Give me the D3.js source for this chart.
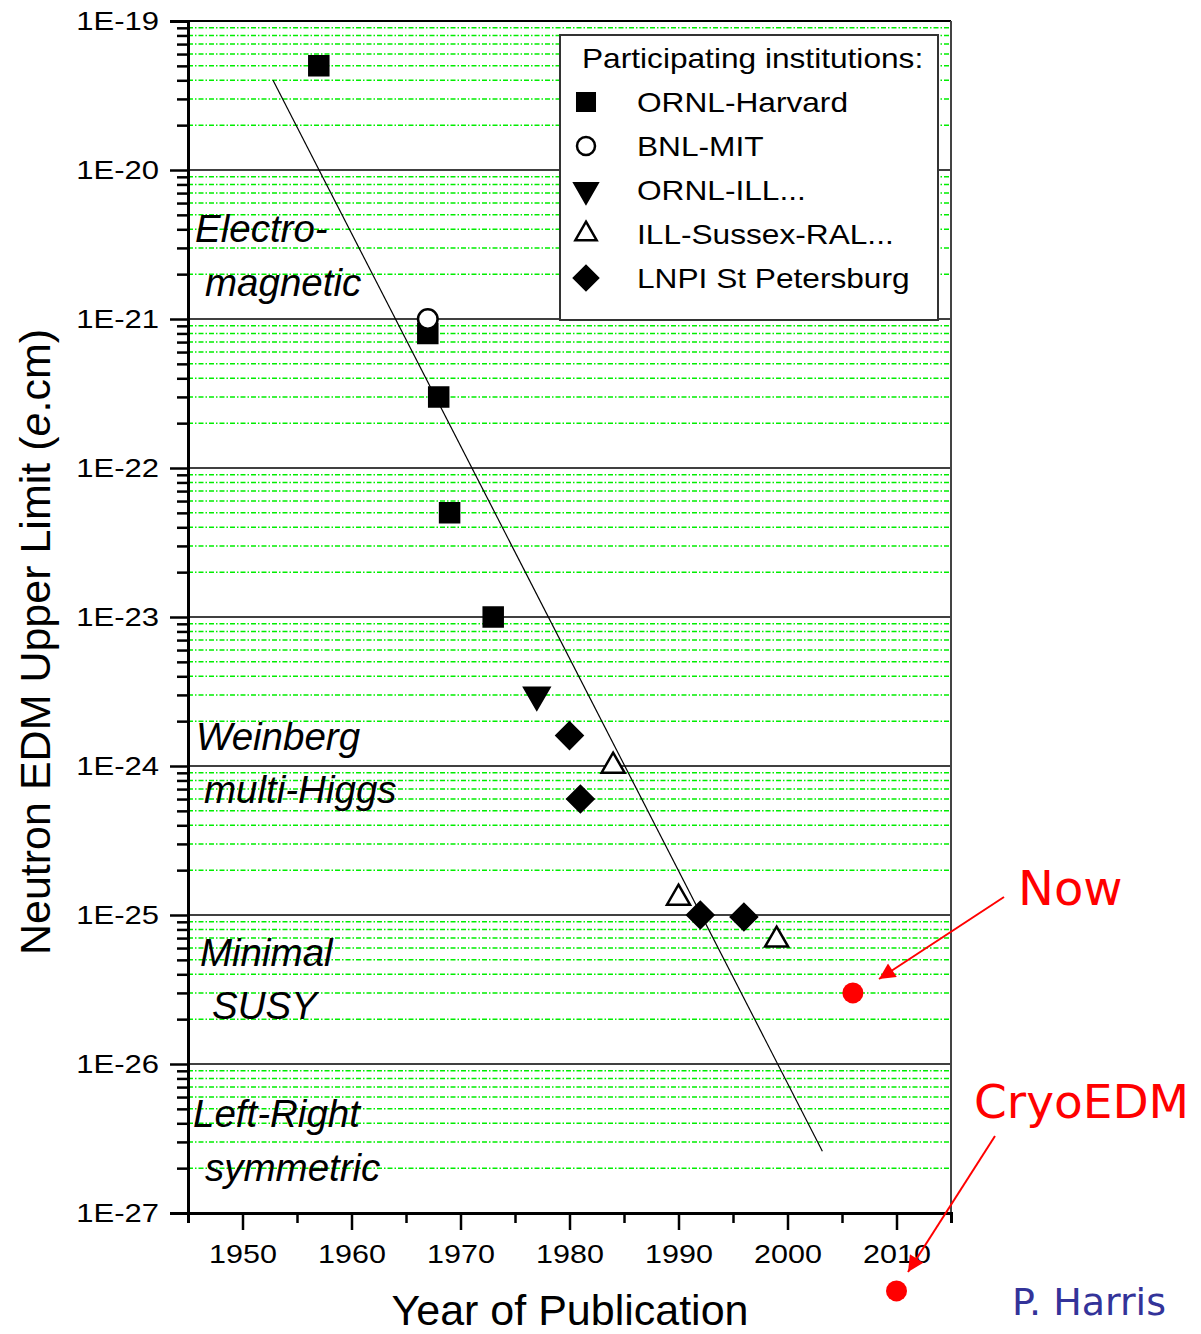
<!DOCTYPE html>
<html>
<head>
<meta charset="utf-8">
<script src="https://cdn.jsdelivr.net/npm/d3@7"></script>
<style>
  body { margin: 0; background: #fff; }
  svg { display: block; }
</style>
</head>
<body>
<svg id="chart" width="1201" height="1334"></svg>
<script>
// values (year of publication, EDM upper limit in e.cm)
const ornlHarvardYears = [1957, 1967, 1968, 1969, 1973];
const ornlHarvardLimits = [5e-20, 8e-22, 3e-22, 5e-23, 1e-23];
const bnlMitYears = [1967];
const bnlMitLimits = [1e-21];
const ornlIllYears = [1977];
const ornlIllLimits = [3e-24];
const illSussexYears = [1984, 1990, 1999];
const illSussexLimits = [1e-24, 1.3e-25, 6.8e-26];
const lnpiYears = [1980, 1981, 1992, 1996];
const lnpiLimits = [1.6e-24, 6e-25, 1e-25, 9.7e-26];
const nowYears = [2006];
const nowLimits = [3e-26];
const cryoYears = [2010];
const cryoLimits = [3e-28];
const trendYears = [1952.8, 2003.2];
const trendLimits = [4e-20, 2.6e-27];

const legendTitle = 'Participating institutions:';
const legendNames = ['ORNL-Harvard', 'BNL-MIT', 'ORNL-ILL...', 'ILL-Sussex-RAL...', 'LNPI St Petersburg'];
const regionNames = ['Electro-', 'magnetic', 'Weinberg', 'multi-Higgs', 'Minimal', 'SUSY', 'Left-Right', 'symmetric'];
const yearTicks = [1945, 1950, 1955, 1960, 1965, 1970, 1975, 1980, 1985, 1990, 1995, 2000, 2005, 2010, 2015];
const yearLabels = [1950, 1960, 1970, 1980, 1990, 2000, 2010];
const decadeTicks = [1e-27, 1e-26, 1e-25, 1e-24, 1e-23, 1e-22, 1e-21, 1e-20, 1e-19];

const FONT = 'Liberation Sans, Arial, Helvetica, sans-serif';

const svg = d3.select('#chart');
svg.append('rect').attr('width', 1201).attr('height', 1334).attr('fill', '#fff');

const x = d3.scaleLinear().domain([1945, 2015]).range([188, 951]);
const y = d3.scaleLog().domain([1e-27, 1e-19]).range([1213, 21]);

// the original's text is a horizontally stretched Helvetica
function stretch(sel, k) {
  sel.each(function() {
    const w = this.getComputedTextLength();
    d3.select(this).attr('textLength', w * k).attr('lengthAdjust', 'spacingAndGlyphs');
  });
}

// minor values 2..9 within each decade
const minorTicks = [];
decadeTicks.slice(0, -1).forEach(d => {
  for (let k = 2; k <= 9; k++) minorTicks.push(d * k);
});

// Grid
const grid = svg.append('g');
grid.selectAll('line.minor').data(minorTicks).join('line')
  .attr('x1', x(1945)).attr('x2', x(2015))
  .attr('y1', d => y(d)).attr('y2', d => y(d))
  .attr('stroke', '#00ee00').attr('stroke-width', 1.5)
  .attr('stroke-dasharray', '5,2,1.5,2');
grid.selectAll('line.major').data(decadeTicks.slice(0, -1)).join('line')
  .attr('x1', x(1945)).attr('x2', x(2015))
  .attr('y1', d => y(d)).attr('y2', d => y(d))
  .attr('stroke', '#000').attr('stroke-width', 1.5);

// frame top/right
svg.append('line').attr('x1', x(1945)).attr('x2', x(2015)).attr('y1', y(1e-19)).attr('y2', y(1e-19))
  .attr('stroke', '#000').attr('stroke-width', 2);
svg.append('line').attr('x1', x(2015)).attr('x2', x(2015)).attr('y1', y(1e-19)).attr('y2', y(1e-27))
  .attr('stroke', '#444').attr('stroke-width', 2);

// region labels
const regionPos = [[195, 242], [205, 296], [196, 750], [204, 803], [200, 966], [212, 1019], [193, 1127], [205, 1181]];
svg.append('g').selectAll('text').data(regionNames).join('text')
  .attr('x', (d, i) => regionPos[i][0]).attr('y', (d, i) => regionPos[i][1])
  .attr('font-family', FONT)
  .attr('font-style', 'italic').attr('font-size', 38.5).attr('fill', '#000')
  .text(d => d);

// Legend
const lg = svg.append('g');
lg.append('rect').attr('x', 560).attr('y', 35).attr('width', 378).attr('height', 285)
  .attr('fill', '#fff').attr('stroke', '#333').attr('stroke-width', 2);
lg.append('text').attr('x', 582).attr('y', 68)
  .attr('font-family', FONT).attr('font-size', 28)
  .text(legendTitle)
  .call(stretch, 1.13);

const markerStyles = [
  { type: d3.symbolSquare, size: 361, rot: 0, fill: '#000' },
  { type: d3.symbolCircle, size: 300, rot: 0, fill: '#fff' },
  { type: d3.symbolTriangle, size: 270, rot: 180, fill: '#000' },
  { type: d3.symbolTriangle, size: 230, rot: 0, fill: '#fff' },
  { type: d3.symbolSquare, size: 340, rot: 45, fill: '#000' }
];

legendNames.forEach((name, i) => {
  const cy = 102 + i * 44;
  const m = markerStyles[i];
  lg.append('path')
    .attr('d', d3.symbol().type(m.type).size(m.size * 0.85)())
    .attr('transform', `translate(586,${cy}) rotate(${m.rot})`)
    .attr('fill', m.fill).attr('stroke', '#000').attr('stroke-width', 2.5);
  lg.append('text').attr('x', 637).attr('y', cy + 10)
    .attr('font-family', FONT).attr('font-size', 28)
    .text(name)
    .call(stretch, 1.13);
});

// trend line
svg.append('path')
  .attr('d', d3.line().x((d, i) => x(trendYears[i])).y(d => y(d))(trendLimits))
  .attr('fill', 'none').attr('stroke', '#000').attr('stroke-width', 1.2);

// data series
const series = [
  [ornlHarvardYears, ornlHarvardLimits],
  [bnlMitYears, bnlMitLimits],
  [ornlIllYears, ornlIllLimits],
  [illSussexYears, illSussexLimits],
  [lnpiYears, lnpiLimits]
];
series.forEach(([yrs, vals], s) => {
  const m = markerStyles[s];
  svg.append('g').selectAll('path').data(vals).join('path')
    .attr('d', d3.symbol().type(m.type).size(m.size)())
    .attr('transform', (d, i) => `translate(${x(yrs[i])},${y(d)}) rotate(${m.rot})`)
    .attr('fill', m.fill).attr('stroke', '#000').attr('stroke-width', 2.5);
});

// projections (red dots)
[[nowYears, nowLimits], [cryoYears, cryoLimits]].forEach(([yrs, vals]) => {
  svg.append('g').selectAll('circle').data(vals).join('circle')
    .attr('cx', (d, i) => x(yrs[i])).attr('cy', d => y(d)).attr('r', 10.5)
    .attr('fill', '#ff0000');
});

// axes
const axisY = svg.append('g').attr('transform', `translate(${x(1945)},0)`)
  .call(d3.axisLeft(y).tickValues(decadeTicks).tickSize(18).tickPadding(11)
    .tickFormat(d => '1E' + Math.round(Math.log10(d))));
svg.append('g').attr('transform', `translate(${x(1945)},0)`)
  .call(d3.axisLeft(y).tickValues(minorTicks).tickSize(11).tickFormat(''))
  .call(g => g.select('.domain').remove());
const axisX = svg.append('g').attr('transform', `translate(0,${y(1e-27)})`)
  .call(d3.axisBottom(x).tickValues(yearTicks).tickSize(10).tickFormat(''));
axisX.selectAll('.tick line').attr('y2', d => yearLabels.includes(d) ? 17 : 10);
axisX.selectAll('.tick').filter(d => yearLabels.includes(d)).append('text')
  .attr('y', 32).attr('dy', '0.71em').attr('fill', '#000').text(d => d);

svg.selectAll('.domain').attr('stroke-width', 3).attr('stroke', '#000');
svg.selectAll('.tick line').attr('stroke-width', 2.5).attr('stroke', '#000');
svg.selectAll('.tick text').attr('font-family', FONT)
  .attr('font-size', 25).attr('fill', '#000');
axisX.selectAll('.tick text').attr('text-anchor', 'middle').call(stretch, 1.22);
axisY.selectAll('.tick text').call(stretch, 1.24);

// axis titles
const yTitle = svg.append('text').attr('transform', 'translate(50,642) rotate(-90)')
  .attr('text-anchor', 'middle')
  .attr('font-family', FONT).attr('font-size', 43);
yTitle.append('tspan').text('Neutron EDM Upper Limit (');
yTitle.append('tspan').attr('font-style', 'italic').text('e');
yTitle.append('tspan').text('.cm)');

svg.append('text').attr('x', 570).attr('y', 1325).attr('text-anchor', 'middle')
  .attr('font-family', FONT).attr('font-size', 43)
  .text('Year of Publication');

// annotations
const defs = svg.append('defs');
defs.append('marker').attr('id', 'arrow').attr('viewBox', '0 0 10 10')
  .attr('refX', 10).attr('refY', 5).attr('markerWidth', 10).attr('markerHeight', 8)
  .attr('markerUnits', 'strokeWidth').attr('orient', 'auto')
  .append('path').attr('d', 'M0,0L10,5L0,10z').attr('fill', '#ff0000');

svg.append('line').attr('x1', 1004).attr('y1', 897).attr('x2', 879).attr('y2', 979)
  .attr('stroke', '#ff0000').attr('stroke-width', 2).attr('marker-end', 'url(#arrow)');
svg.append('line').attr('x1', 995).attr('y1', 1136).attr('x2', 908).attr('y2', 1272)
  .attr('stroke', '#ff0000').attr('stroke-width', 2).attr('marker-end', 'url(#arrow)');

svg.append('text').attr('x', 1018).attr('y', 905)
  .attr('font-family', 'DejaVu Sans, sans-serif').attr('font-size', 48).attr('fill', '#ff0000')
  .text('Now');
svg.append('text').attr('x', 974).attr('y', 1118)
  .attr('font-family', 'DejaVu Sans, sans-serif').attr('font-size', 47).attr('fill', '#ff0000')
  .text('CryoEDM');
svg.append('text').attr('x', 1012).attr('y', 1315)
  .attr('font-family', 'DejaVu Sans, sans-serif').attr('font-size', 38).attr('fill', '#333399')
  .text('P. Harris');
</script>
</body>
</html>
